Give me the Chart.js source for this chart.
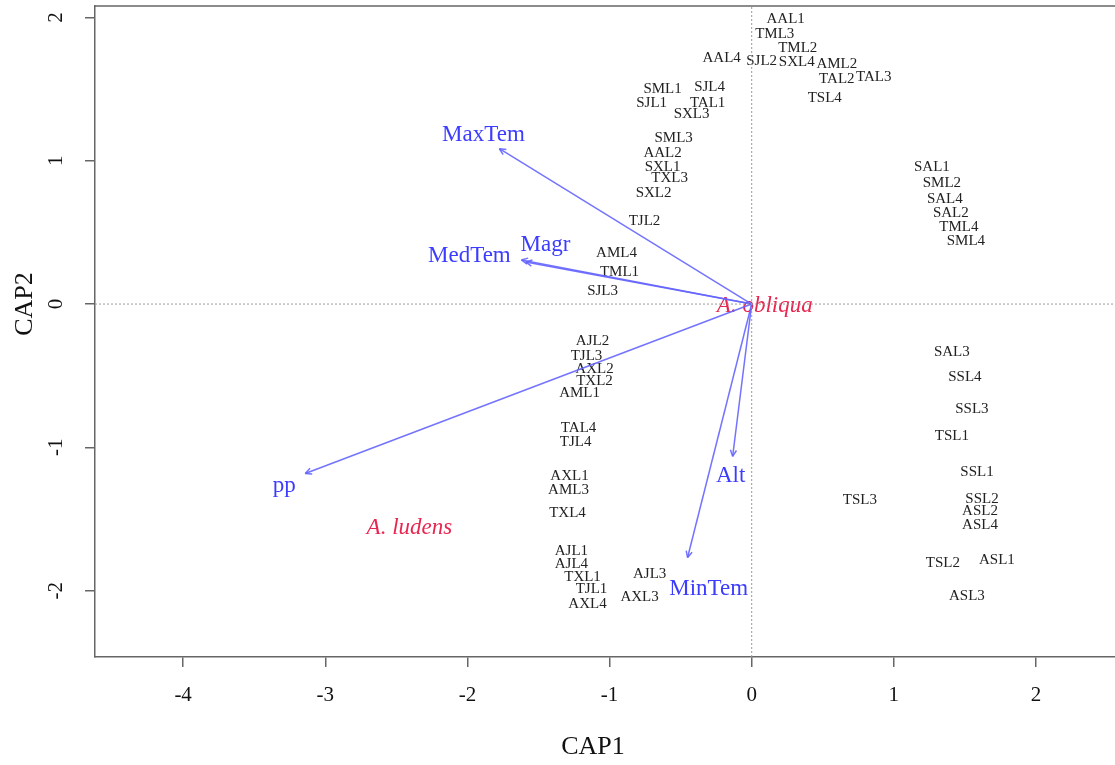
<!DOCTYPE html>
<html lang="en">
  <head>
    <meta charset="UTF-8" />
    <title>CAP biplot</title>
    <style>
      body { margin: 0; background: #fff; }
    </style>
  </head>
  <body>
    <canvas id="capChart" width="1115" height="765"></canvas>

    <script src="https://cdn.jsdelivr.net/npm/chart.js"></script>
    <script>
      // tick labels
      const xTicks = [-4, -3, -2, -1, 0, 1, 2];
      const yTicks = [-2, -1, 0, 1, 2];

      // sample scores (CAP1, CAP2)
      const sampleNames = [
        'AAL1', 'TML3', 'TML2', 'AAL4', 'SJL2', 'SXL4', 'AML2', 'TAL2', 'TAL3', 'TSL4',
        'SML1', 'SJL4', 'SJL1', 'TAL1', 'SXL3', 'SML3', 'AAL2', 'SXL1', 'TXL3', 'SXL2', 'TJL2',
        'AML4', 'TML1', 'SJL3',
        'SAL1', 'SML2', 'SAL4', 'SAL2', 'TML4', 'SML4',
        'AJL2', 'TJL3', 'AXL2', 'TXL2', 'AML1', 'TAL4', 'TJL4',
        'AXL1', 'AML3', 'TXL4', 'AJL1', 'AJL4', 'TXL1', 'TJL1', 'AXL4', 'AJL3', 'AXL3',
        'SAL3', 'SSL4', 'SSL3', 'TSL1', 'SSL1', 'TSL3', 'SSL2', 'ASL2', 'ASL4', 'TSL2', 'ASL1', 'ASL3'
      ];
      const sampleX = [
        0.239, 0.162, 0.324, -0.211, 0.070, 0.317, 0.599, 0.599, 0.859, 0.514,
        -0.627, -0.296, -0.704, -0.310, -0.423, -0.549, -0.627, -0.627, -0.577, -0.690, -0.754,
        -0.951, -0.930, -1.049,
        1.268, 1.338, 1.359, 1.401, 1.458, 1.507,
        -1.120, -1.162, -1.106, -1.106, -1.211, -1.218, -1.239,
        -1.282, -1.289, -1.296, -1.268, -1.268, -1.190, -1.127, -1.155, -0.718, -0.789,
        1.408, 1.500, 1.549, 1.408, 1.585, 0.761, 1.620, 1.606, 1.606, 1.345, 1.725, 1.514
      ];
      const sampleY = [
        1.986, 1.881, 1.783, 1.720, 1.699, 1.692, 1.678, 1.573, 1.587, 1.441,
        1.503, 1.517, 1.406, 1.406, 1.329, 1.161, 1.056, 0.958, 0.881, 0.776, 0.580,
        0.357, 0.224, 0.091,
        0.958, 0.846, 0.734, 0.636, 0.538, 0.441,
        -0.259, -0.364, -0.455, -0.538, -0.622, -0.867, -0.965,
        -1.203, -1.301, -1.462, -1.727, -1.811, -1.902, -1.986, -2.091, -1.881, -2.042,
        -0.336, -0.510, -0.734, -0.923, -1.175, -1.371, -1.364, -1.448, -1.545, -1.804, -1.790, -2.035
      ];

      // environmental vectors: arrow tips and label positions
      const envNames = ['MaxTem', 'MedTem', 'Magr', 'pp', 'Alt', 'MinTem'];
      const envX = [-1.775, -1.62, -1.59, -3.141, -0.134, -0.451];
      const envY = [1.084, 0.308, 0.294, -1.182, -1.063, -1.769];
      const envLabelX = [-1.887, -1.986, -1.451, -3.289, -0.148, -0.303];
      const envLabelY = [1.182, 0.336, 0.413, -1.266, -1.203, -1.986];

      // species centroids
      const groupNames = ['A. obliqua', 'A. ludens'];
      const groupX = [0.092, -2.408];
      const groupY = [-0.014, -1.559];

      const X_MIN = -4.62, X_MAX = 2.556, Y_MIN = -2.463, Y_MAX = 2.08;

      const serif = '"Liberation Serif", "DejaVu Serif", serif';
      const frameColor = '#666';
      const arrowColor = 'rgba(100,100,255,0.9)';
      const envColor = '#3c3cff';
      const groupColor = '#e8264f';

      const datasets = [
        {
          data: [{ x: X_MIN, y: 0 }, { x: X_MAX, y: 0 }],
          showLine: true, borderColor: '#999', borderWidth: 1, borderDash: [2, 2], pointRadius: 0
        },
        {
          data: [{ x: 0, y: Y_MIN }, { x: 0, y: Y_MAX }],
          showLine: true, borderColor: '#999', borderWidth: 1, borderDash: [2, 2], pointRadius: 0
        },
        {
          data: sampleX.map((x, i) => ({ x: x, y: sampleY[i] })),
          pointRadius: 0, showLine: false
        }
      ];
      envNames.forEach((name, i) => {
        datasets.push({
          label: name,
          data: [{ x: 0, y: 0 }, { x: envX[i], y: envY[i] }],
          showLine: true, borderColor: arrowColor, borderWidth: 1.5, pointRadius: 0
        });
      });

      const capText = {
        id: 'capText',
        beforeDatasetsDraw(chart) {
          const ctx = chart.ctx, xs = chart.scales.x, ys = chart.scales.y;
          ctx.save();
          ctx.textAlign = 'center';
          ctx.textBaseline = 'middle';
          ctx.fillStyle = '#222';
          ctx.font = '15px ' + serif;
          sampleNames.forEach((n, i) => {
            ctx.fillText(n, xs.getPixelForValue(sampleX[i]), ys.getPixelForValue(sampleY[i]));
          });
          ctx.fillStyle = groupColor;
          ctx.font = 'italic 23px ' + serif;
          groupNames.forEach((n, i) => {
            ctx.fillText(n, xs.getPixelForValue(groupX[i]), ys.getPixelForValue(groupY[i]));
          });
          ctx.restore();
        },
        afterDatasetsDraw(chart) {
          const ctx = chart.ctx, xs = chart.scales.x, ys = chart.scales.y;
          const ox = xs.getPixelForValue(0), oy = ys.getPixelForValue(0);
          ctx.save();
          ctx.strokeStyle = arrowColor;
          ctx.lineWidth = 1.5;
          envNames.forEach((n, i) => {
            const tx = xs.getPixelForValue(envX[i]), ty = ys.getPixelForValue(envY[i]);
            const a = Math.atan2(ty - oy, tx - ox);
            ctx.beginPath();
            [a + Math.PI - 0.45, a + Math.PI + 0.45].forEach(b => {
              ctx.moveTo(tx, ty);
              ctx.lineTo(tx + 7 * Math.cos(b), ty + 7 * Math.sin(b));
            });
            ctx.stroke();
          });
          ctx.textAlign = 'center';
          ctx.textBaseline = 'middle';
          ctx.fillStyle = envColor;
          ctx.font = '23px ' + serif;
          envNames.forEach((n, i) => {
            ctx.fillText(n, xs.getPixelForValue(envLabelX[i]), ys.getPixelForValue(envLabelY[i]));
          });
          ctx.restore();
        },
        afterDraw(chart) {
          const ctx = chart.ctx, xs = chart.scales.x, ys = chart.scales.y;
          const area = chart.chartArea;
          ctx.save();
          // top edge of the box
          ctx.strokeStyle = frameColor;
          ctx.lineWidth = 1.5;
          ctx.beginPath();
          ctx.moveTo(area.left, area.top);
          ctx.lineTo(area.right, area.top);
          ctx.stroke();

          ctx.fillStyle = '#111';
          ctx.textAlign = 'center';
          ctx.textBaseline = 'middle';
          ctx.font = '21px ' + serif;
          xTicks.forEach(v => ctx.fillText(String(v), xs.getPixelForValue(v), 695));
          yTicks.forEach(v => {
            ctx.save();
            ctx.translate(56, ys.getPixelForValue(v));
            ctx.rotate(-Math.PI / 2);
            ctx.fillText(String(v), 0, 0);
            ctx.restore();
          });
          ctx.font = '26px ' + serif;
          ctx.fillText('CAP1', (area.left + area.right) / 2 - 12, 747);
          ctx.save();
          ctx.translate(25, ys.getPixelForValue(0));
          ctx.rotate(-Math.PI / 2);
          ctx.fillText('CAP2', 0, 0);
          ctx.restore();
          ctx.restore();
        }
      };

      const axisGrid = {
        drawOnChartArea: false, drawTicks: true, tickLength: 10,
        color: frameColor, lineWidth: 1.5
      };

      new Chart(document.getElementById('capChart').getContext('2d'), {
        type: 'scatter',
        data: { datasets: datasets },
        options: {
          responsive: false,
          animation: false,
          layout: { padding: { top: 6, right: 0, left: 0, bottom: 0 } },
          plugins: { legend: { display: false }, tooltip: { enabled: false } },
          scales: {
            x: {
              type: 'linear', min: X_MIN, max: X_MAX,
              afterBuildTicks: s => { s.ticks = xTicks.map(v => ({ value: v })); },
              afterFit: s => { s.height = 108; },
              ticks: { display: false },
              grid: axisGrid,
              border: { display: true, color: frameColor, width: 1.5 }
            },
            y: {
              type: 'linear', min: Y_MIN, max: Y_MAX,
              afterBuildTicks: s => { s.ticks = yTicks.map(v => ({ value: v })); },
              afterFit: s => { s.width = 95; },
              ticks: { display: false },
              grid: axisGrid,
              border: { display: true, color: frameColor, width: 1.5 }
            }
          }
        },
        plugins: [capText]
      });
    </script>
  </body>
</html>
